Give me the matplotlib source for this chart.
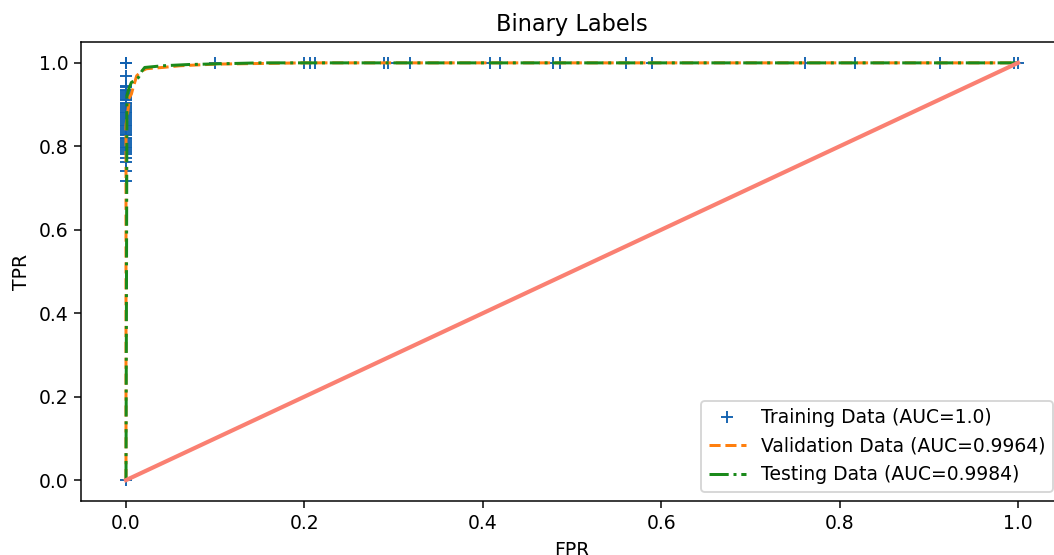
import numpy as np
import matplotlib
matplotlib.use('Agg')
import matplotlib.pyplot as plt

# training ROC points (AUC=1.0)
train_fpr = [0.0, 0.0, 0.0, 0.0, 0.0, 0.0, 0.0,
             0.0, 0.0, 0.0, 0.0, 0.0, 0.0, 0.0, 0.0, 0.0, 0.0,
             0.0, 0.0, 0.0, 0.0, 0.0, 0.0, 0.0, 0.0, 0.0, 0.0,
             0.0, 0.0, 0.0, 0.0, 0.0, 0.0, 0.0, 0.0, 0.0, 0.0,
             0.0, 0.0, 0.0, 0.0, 0.0, 0.0, 0.0, 0.0, 0.0,
             0.1, 0.2, 0.206, 0.212, 0.289, 0.294, 0.318, 0.408, 0.419,
             0.479, 0.487, 0.561, 0.59, 0.761, 0.817, 0.912, 0.996, 1.0]
train_tpr = [0.0, 0.718, 0.742, 0.762, 0.773, 0.781, 0.786,
             0.79, 0.795, 0.799, 0.804, 0.808, 0.812, 0.817, 0.821, 0.826, 0.83,
             0.835, 0.839, 0.843, 0.848, 0.852, 0.857, 0.861, 0.866, 0.87, 0.874,
             0.879, 0.883, 0.888, 0.892, 0.897, 0.901, 0.905, 0.91, 0.914, 0.919,
             0.923, 0.928, 0.932, 0.936, 0.941, 0.945, 0.968, 1.0, 1.0,
             1.0, 1.0, 1.0, 1.0, 1.0, 1.0, 1.0, 1.0, 1.0,
             1.0, 1.0, 1.0, 1.0, 1.0, 1.0, 1.0, 1.0, 1.0]

# validation ROC (AUC=0.9964)
val_fpr = [0.0, 0.0, 0.003, 0.003, 0.006, 0.008, 0.012, 0.018, 0.023, 0.041,
           0.06, 0.1, 0.2, 1.0]
val_tpr = [0.0, 0.85, 0.9, 0.914, 0.925, 0.941, 0.969, 0.981, 0.986, 0.989,
           0.993, 0.997, 1.0, 1.0]

# testing ROC (AUC=0.9984)
test_fpr = [0.0, 0.001, 0.001, 0.003, 0.006, 0.009, 0.014, 0.018, 0.021, 0.041,
            0.07, 0.15, 1.0]
test_tpr = [0.0, 0.88, 0.921, 0.937, 0.953, 0.957, 0.965, 0.981, 0.989, 0.993,
            0.996, 1.0, 1.0]

chance = [0.0, 1.0]

dpi = 135
fig = plt.figure(figsize=(1054 / dpi, 555 / dpi), dpi=dpi)
# axes runs past the right edge, as in the cropped original
ax = fig.add_axes([81.4 / 1054, 54 / 555, 981.2 / 1054, 459 / 555])

ax.plot(train_fpr, train_tpr, '+', color='#1161b0', markersize=6,
        label='Training Data (AUC=1.0)')
ax.plot(val_fpr, val_tpr, '--', color='#ff7f0e', linewidth=1.6,
        label='Validation Data (AUC=0.9964)')
ax.plot(test_fpr, test_tpr, '-.', color='#1b8a1b', linewidth=1.6,
        label='Testing Data (AUC=0.9984)')
ax.plot(chance, chance, '-', color='salmon', linewidth=2.2)

ax.set_title('Binary Labels')
ax.set_xlabel('FPR')
ax.set_ylabel('TPR')
ax.legend(loc='lower right')

fig.savefig('out.png', dpi=dpi)
